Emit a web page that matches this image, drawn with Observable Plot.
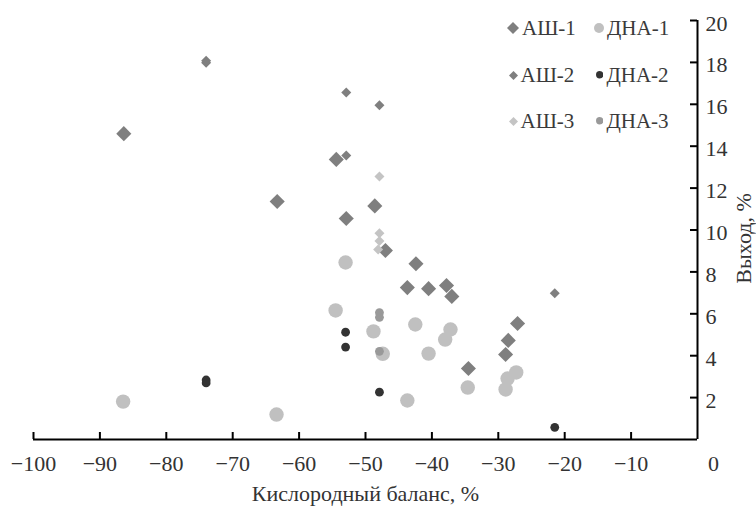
<!DOCTYPE html>
<html>
<head>
<meta charset="utf-8">
<script src="https://cdn.jsdelivr.net/npm/d3@7"></script>
<script src="https://cdn.jsdelivr.net/npm/@observablehq/plot@0.6"></script>
<style>
  html, body { margin: 0; padding: 0; background: #fff; }
  #wrap { position: relative; width: 756px; height: 506px; font-family: "Liberation Serif", Tinos, "Times New Roman", "DejaVu Serif", serif; }
  #wrap svg text { font-family: "Liberation Serif", Tinos, "Times New Roman", "DejaVu Serif", serif !important; }
  #legend { position: absolute; left: 0; top: 0; width: 756px; height: 140px; pointer-events: none; }
  .li { position: absolute; display: flex; align-items: center; font-size: 21px; color: #3a3a3a; line-height: 1; font-family: "Liberation Serif", Tinos, "Times New Roman", "DejaVu Serif", serif; }
  .li svg { display: block; margin-right: 3px; }
</style>
</head>
<body>
<div id="wrap"><div id="legend"></div></div>
<script>
// ---- data ----
const ash1X = [-86.4, -63.3, -54.4, -52.9, -48.6, -47.0, -42.4, -43.7, -40.5, -37.8, -37.0, -34.5, -28.9, -28.5, -27.1];
const ash1Y = [14.6, 11.36, 13.37, 10.55, 11.15, 9.02, 8.39, 7.25, 7.2, 7.35, 6.83, 3.39, 4.06, 4.73, 5.54];

const dna1X = [-86.5, -63.4, -53.0, -54.5, -48.8, -47.4, -42.5, -40.5, -43.7, -38.0, -37.2, -34.6, -28.9, -28.6, -27.3];
const dna1Y = [1.81, 1.19, 8.45, 6.16, 5.16, 4.09, 5.49, 4.1, 1.86, 4.77, 5.25, 2.48, 2.39, 2.91, 3.2];

const ash2X = [-74, -74, -52.9, -47.9, -52.9, -21.5];
const ash2Y = [18.08, 17.98, 16.56, 15.95, 13.56, 6.98];

const dna2X = [-74, -74, -53.0, -53.0, -47.9, -21.5];
const dna2Y = [2.84, 2.70, 5.12, 4.41, 2.26, 0.58];

const ash3X = [-47.9, -47.9, -47.9, -48.1];
const ash3Y = [12.55, 9.85, 9.47, 9.07];

const dna3X = [-47.9, -47.9, -47.9];
const dna3Y = [6.06, 5.83, 4.21];

const seriesNames = ["АШ-1", "ДНА-1", "АШ-2", "ДНА-2", "АШ-3", "ДНА-3"];
const xTicks = [-100, -90, -80, -70, -60, -50, -40, -30, -20, -10];
const yTicks = [2, 4, 6, 8, 10, 12, 14, 16, 18, 20];
const xLabel = "Кислородный баланс, %";
const yLabel = "Выход, %";

// ---- build tables ----
const zipXY = (xs, ys) => xs.map((x, i) => ({x, y: ys[i]}));
const ash1 = zipXY(ash1X, ash1Y);
const dna1 = zipXY(dna1X, dna1Y);
const ash2 = zipXY(ash2X, ash2Y);
const dna2 = zipXY(dna2X, dna2Y);
const ash3 = zipXY(ash3X, ash3Y);
const dna3 = zipXY(dna3X, dna3Y);

const fmt = d => d < 0 ? "\u2212" + Math.abs(d) : String(d);
const txt = "#333";
const serif = "'Liberation Serif', Tinos, 'Times New Roman', 'DejaVu Serif', serif";

const chart = Plot.plot({
  width: 756,
  height: 506,
  marginLeft: 33,
  marginRight: 59,
  marginTop: 20,
  marginBottom: 67,
  x: {domain: [-100, 0], axis: null},
  y: {domain: [0, 20], axis: null},
  style: {fontFamily: serif, fontSize: "21px", background: "white", overflow: "visible"},
  marks: [
    // axes
    Plot.ruleY([0], {stroke: "black", strokeWidth: 2}),
    Plot.ruleX([0], {stroke: "black", strokeWidth: 2}),
    Plot.ruleX(xTicks, {x: d => d, y1: 0, y2: 0, insetTop: -7, stroke: "black", strokeWidth: 2}),
    Plot.ruleY(yTicks, {y: d => d, x1: 0, x2: 0, insetLeft: -7, stroke: "black", strokeWidth: 2}),
    Plot.text(xTicks, {x: d => d, y: 0, dy: 24, text: fmt, fill: txt, fontSize: 22, fontFamily: serif}),
    Plot.text(yTicks, {x: 0, y: d => d, dx: 8, dy: 3, text: fmt, textAnchor: "start", fill: txt, fontSize: 22, fontFamily: serif}),
    Plot.text([0], {x: 0, y: 0, dx: 16, dy: 24, text: d => fmt(d), fill: txt, fontSize: 22, fontFamily: serif}),
    Plot.text([xLabel], {x: -50, y: 0, dy: 54, text: d => d, fill: txt, fontSize: 22, fontFamily: serif}),
    Plot.text([yLabel], {x: 0, y: 9.6, dx: 46, text: d => d, rotate: -90, fill: txt, fontSize: 22, fontFamily: serif}),
    // series
    Plot.dot(ash1, {x: "x", y: "y", symbol: "diamond2", r: 6.8, fill: "#7f7f7f", stroke: "none"}),
    Plot.dot(dna1, {x: "x", y: "y", symbol: "circle", r: 7.2, fill: "#c0c0c0", stroke: "none"}),
    Plot.dot(ash2, {x: "x", y: "y", symbol: "diamond2", r: 4.5, fill: "#7f7f7f", stroke: "none"}),
    Plot.dot(dna2, {x: "x", y: "y", symbol: "circle", r: 4.4, fill: "#333333", stroke: "none"}),
    Plot.dot(ash3, {x: "x", y: "y", symbol: "diamond2", r: 4.5, fill: "#c4c4c4", stroke: "none"}),
    Plot.dot(dna3, {x: "x", y: "y", symbol: "circle", r: 4.4, fill: "#999999", stroke: "none"})
  ]
});
document.getElementById("wrap").prepend(chart);

// ---- legend (HTML overlay) ----
const legendItems = [
  {name: seriesNames[0], shape: "diamond", half: 6, color: "#7f7f7f", left: 507, top: 28},
  {name: seriesNames[1], shape: "circle", half: 5, color: "#c0c0c0", left: 594, top: 28},
  {name: seriesNames[2], shape: "diamond", half: 4.5, color: "#7f7f7f", left: 508.5, top: 75},
  {name: seriesNames[3], shape: "circle", half: 3.7, color: "#333333", left: 596, top: 75},
  {name: seriesNames[4], shape: "diamond", half: 4.5, color: "#c4c4c4", left: 508.5, top: 121},
  {name: seriesNames[5], shape: "circle", half: 3.7, color: "#999999", left: 596, top: 121}
];
const legend = document.getElementById("legend");
for (const it of legendItems) {
  const el = document.createElement("div");
  el.className = "li";
  const s = it.half * 2;
  const shape = it.shape === "diamond"
    ? `<polygon points="${it.half},0 ${s},${it.half} ${it.half},${s} 0,${it.half}" fill="${it.color}"/>`
    : `<circle cx="${it.half}" cy="${it.half}" r="${it.half}" fill="${it.color}"/>`;
  el.innerHTML = `<svg width="${s}" height="${s}">${shape}</svg><span>${it.name}</span>`;
  el.style.left = it.left + "px";
  el.style.top = (it.top - 11) + "px";
  el.style.height = "22px";
  legend.appendChild(el);
}
</script>
</body>
</html>
